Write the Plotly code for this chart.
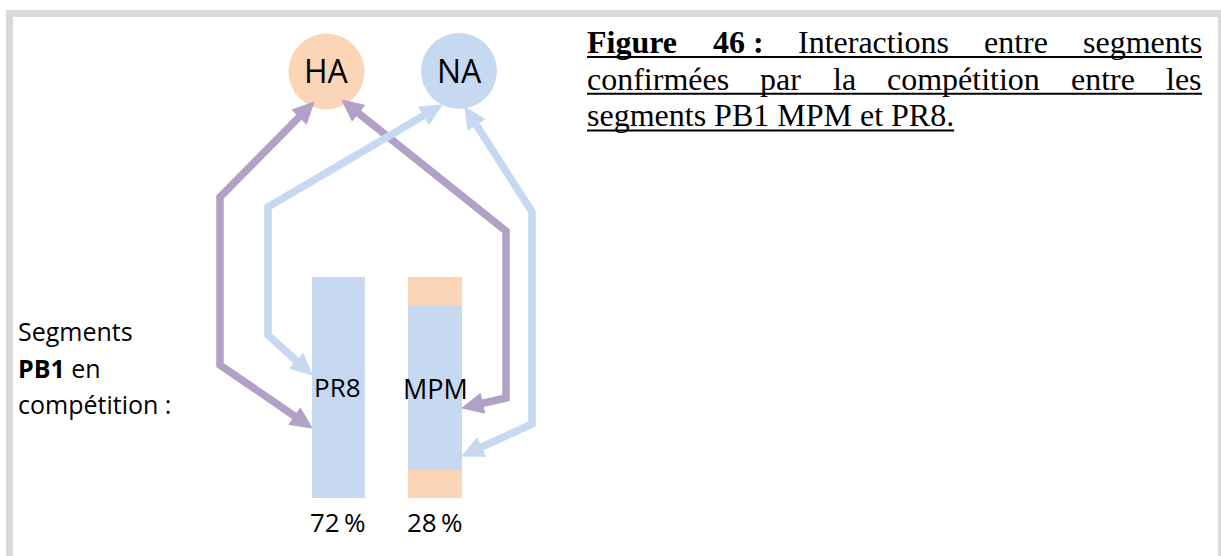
import math
import plotly.graph_objects as go

# ---------------- data ----------------
segment_labels = ["PR8", "MPM"]          # PB1 segments in competition
segment_shares = [72, 28]                # % observed
node_labels = ["HA", "NA"]               # interacting segments
side_label_lines = ["Segments", "<b>PB1</b> en", "compétition :"]
caption_line1 = [("Figure", True), ("46\u00a0:", True), ("Interactions", False),
                 ("entre", False), ("segments", False)]
caption_line2 = [("confirmées", False), ("par", False), ("la", False),
                 ("compétition", False), ("entre", False), ("les", False)]
caption_line3 = "segments PB1 MPM et PR8."

# ---------------- styles / geometry ----------------
W, H = 1221, 556
BLUE = "#C6D9F1"
ORANGE = "#FBD5B5"
PURPLE = "#B2A1C7"
GRAY = "#D9D9D9"
SANS = "Open Sans"
SERIF = "Liberation Serif"

node_pos = {"HA": (326.5, 71.5), "NA": (459.0, 71.0)}
node_r = 38
node_fill = {"HA": ORANGE, "NA": BLUE}

bar_x = {"PR8": 338.5, "MPM": 435.2}
bar_w = {"PR8": 52.5, "MPM": 54}
bar_top, bar_bottom = 277, 498
mpm_cap = 28.5  # orange ends of MPM bar (pixels)

# arrow polylines (start, ..., end) with heads at both ends
arrows = [
    (PURPLE, [(314, 102), (220, 197), (220, 365), (312, 428)]),
    (PURPLE, [(342, 100), (506, 231), (506, 398), (462, 408)]),
    (BLUE, [(442, 105), (268, 207), (268, 335), (312, 375)]),
    (BLUE, [(465, 107), (532, 212), (532, 424), (462, 456)]),
]
LW = 7.5
HEAD_L, HEAD_HW = 21, 10

fig = go.Figure()

# ---------- bars ----------
fig.add_trace(go.Bar(x=[bar_x["PR8"]], y=[bar_bottom - bar_top], base=[bar_top],
                     width=[bar_w["PR8"]], marker=dict(color=BLUE, line=dict(width=0)),
                     hoverinfo="skip", showlegend=False))
mx, mw = bar_x["MPM"], bar_w["MPM"]
fig.add_trace(go.Bar(x=[mx, mx, mx],
                     y=[mpm_cap, bar_bottom - bar_top - 2 * mpm_cap, mpm_cap],
                     base=[bar_top, bar_top + mpm_cap, bar_bottom - mpm_cap],
                     width=[mw] * 3,
                     marker=dict(color=[ORANGE, BLUE, ORANGE], line=dict(width=0)),
                     hoverinfo="skip", showlegend=False))

shapes = []
shapes.append(dict(type="rect", x0=9.5, y0=13.5, x1=1221.5, y1=700,
                   line=dict(color=GRAY, width=7), fillcolor="rgba(0,0,0,0)", layer="below"))

for lab in node_labels:
    cx, cy = node_pos[lab]
    shapes.append(dict(type="circle", x0=cx - node_r, x1=cx + node_r, y0=cy - node_r, y1=cy + node_r,
                       fillcolor=node_fill[lab], line=dict(width=0), layer="below"))


def head(tip, prev):
    dx, dy = tip[0] - prev[0], tip[1] - prev[1]
    n = math.hypot(dx, dy)
    ux, uy = dx / n, dy / n
    bx, by = tip[0] - ux * HEAD_L, tip[1] - uy * HEAD_L
    px, py = -uy, ux
    p1 = (bx + px * HEAD_HW, by + py * HEAD_HW)
    p2 = (bx - px * HEAD_HW, by - py * HEAD_HW)
    path = f"M {tip[0]},{tip[1]} L {p1[0]},{p1[1]} L {p2[0]},{p2[1]} Z"
    return path, (tip[0] - ux * (HEAD_L - 3), tip[1] - uy * (HEAD_L - 3))


for color, pts in arrows:
    h0, s0 = head(pts[0], pts[1])
    h1, s1 = head(pts[-1], pts[-2])
    line_pts = [s0] + pts[1:-1] + [s1]
    path = "M " + " L ".join(f"{x},{y}" for x, y in line_pts)
    shapes.append(dict(type="path", path=path, line=dict(color=color, width=LW)))
    for hp in (h0, h1):
        shapes.append(dict(type="path", path=hp, fillcolor=color, line=dict(color=color, width=1)))

annotations = []


def txt(x, y, text, size, family=SANS, xanchor="center", color="black"):
    annotations.append(dict(x=x, y=y, xref="x", yref="y", text=text, showarrow=False,
                            xanchor=xanchor, yanchor="middle", borderpad=0, borderwidth=0,
                            font=dict(family=family, size=size, color=color)))


txt(326.5, 70, node_labels[0], 32)
txt(459.5, 70, node_labels[1], 32)
txt(337.5, 386.5, segment_labels[0], 26)
txt(435.8, 388.3, segment_labels[1], 27)
txt(337.5, 521.5, f"{segment_shares[0]}\u2009%", 26)
txt(435.0, 521.5, f"{segment_shares[1]}\u2009%", 26)
for i, line in enumerate(side_label_lines):
    txt(18, 331 + i * 36.5, line, 25, xanchor="left")

REG = {' ': 250, 'a': 444, 'b': 500, 'c': 444, 'd': 500, 'e': 444, 'f': 333, 'g': 500, 'h': 500,
       'i': 278, 'l': 278, 'm': 778, 'n': 500, 'o': 500, 'p': 500, 'r': 333, 's': 389, 't': 278,
       'u': 500, 'é': 444, 'I': 333, 'P': 556, 'B': 667, 'M': 889, 'R': 667, '1': 500, '8': 500,
       '.': 250}
BOLD = {'F': 611, 'i': 278, 'g': 500, 'u': 556, 'r': 444, 'e': 444, '4': 500, '6': 500,
        '\u00a0': 250, ':': 333}
CAP_SIZE = 32
LEFT, RIGHT = 587, 1202
baselines = [52.5, 89.3, 126.1]


def wwidth(word, bold):
    tab = BOLD if bold else REG
    return sum(tab.get(ch, 500) for ch in word) * CAP_SIZE / 1000.0


for li, words in enumerate([caption_line1, caption_line2]):
    widths = [wwidth(w, b) for w, b in words]
    gap = (RIGHT - LEFT - sum(widths)) / (len(words) - 1)
    x = LEFT
    for (w, b), wd in zip(words, widths):
        txt(x, baselines[li] - 10.8, f"<b>{w}</b>" if b else w, CAP_SIZE, family=SERIF, xanchor="left")
        x += wd + gap
    shapes.append(dict(type="line", x0=LEFT, x1=RIGHT, y0=baselines[li] + 4.5, y1=baselines[li] + 4.5,
                       line=dict(color="black", width=2)))
txt(LEFT, baselines[2] - 10.8, caption_line3, CAP_SIZE, family=SERIF, xanchor="left")
l3w = wwidth(caption_line3, False)
shapes.append(dict(type="line", x0=LEFT, x1=LEFT + l3w, y0=baselines[2] + 4.5, y1=baselines[2] + 4.5,
                   line=dict(color="black", width=2)))

fig.update_layout(
    width=W, height=H, margin=dict(l=0, r=0, t=0, b=0),
    paper_bgcolor="white", plot_bgcolor="white",
    xaxis=dict(range=[0, W], visible=False, fixedrange=True),
    yaxis=dict(range=[H, 0], visible=False, fixedrange=True),
    shapes=shapes, annotations=annotations, barmode="overlay", bargap=0, showlegend=False,
)

fig.write_html("out.html", config={"displayModeBar": False},
               post_script="document.body.style.margin='0';document.body.style.overflow='hidden';")
